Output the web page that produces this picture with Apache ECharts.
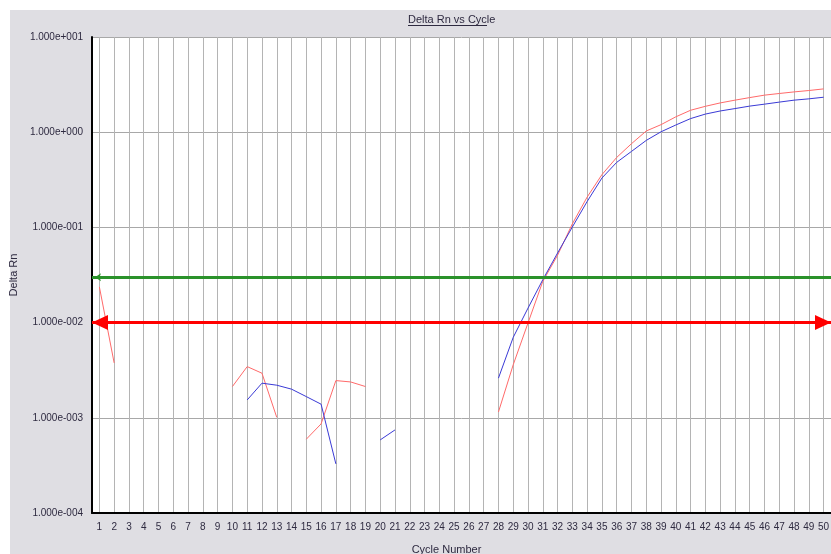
<!DOCTYPE html>
<html>
<head>
<meta charset="utf-8">
<script src="https://cdn.jsdelivr.net/npm/echarts@6/dist/echarts.min.js"></script>
<style>
  html, body { margin: 0; padding: 0; background: #fff; }
  #chart { width: 831px; height: 554px; }
</style>
</head>
<body>
<div id="chart"></div>
<script>
const cycles = ['1','2','3','4','5','6','7','8','9','10','11','12','13','14','15','16','17','18','19','20',
  '21','22','23','24','25','26','27','28','29','30','31','32','33','34','35','36','37','38','39','40',
  '41','42','43','44','45','46','47','48','49','50'];

// delta Rn per cycle, null where the trace is not drawn
const redWell = [0.0237, 0.00377, null, null, null, null, null, null, null, 0.00213,
  0.00345, 0.00294, 0.00101, null, 0.000596, 0.000863, 0.00246, 0.00238, 0.00213, null,
  null, null, null, null, null, null, null, 0.00115, 0.00361, 0.0099,
  0.0271, 0.051, 0.109, 0.208, 0.358, 0.543, 0.757, 1.03, 1.2, 1.45,
  1.70, 1.87, 2.03, 2.17, 2.31, 2.45, 2.55, 2.65, 2.74, 2.85];
const blueWell = [null, null, null, null, null, null, null, null, null, null,
  0.00154, 0.00231, 0.0022, 0.002, 0.00167, 0.00139, 0.000328, null, null, 0.000586,
  0.000746, null, null, null, null, null, null, 0.00261, 0.0070, 0.0142,
  0.0282, 0.0538, 0.101, 0.187, 0.33, 0.482, 0.628, 0.82, 1.01, 1.19,
  1.39, 1.55, 1.67, 1.77, 1.88, 1.97, 2.07, 2.17, 2.24, 2.33];

const thresholdGreen = 0.0338;
const thresholdRed = 0.01;

const labelColor = '#2e2a40';
const fontFamily = 'Liberation Sans, Arial, sans-serif';

function sciLabel(v) {
  const exp = Math.round(Math.log10(v));
  const mant = v / Math.pow(10, exp);
  const sign = exp < 0 ? '-' : '+';
  return mant.toFixed(3) + 'e' + sign + String(Math.abs(exp)).padStart(3, '0');
}

const chart = echarts.init(document.getElementById('chart'), null, { renderer: 'canvas' });

const option = {
  animation: false,
  backgroundColor: '#fff',
  textStyle: { fontFamily: fontFamily },
  graphic: [
    {
      type: 'rect', z: -10, silent: true,
      shape: { x: 10, y: 10, width: 821, height: 544 },
      style: { fill: '#dfdee3' }
    },
    {
      type: 'text', left: 408, top: 14,
      style: { text: 'Delta Rn vs Cycle', fill: '#2e2a40', font: '11px Liberation Sans, Arial, sans-serif' }
    },
    {
      type: 'line',
      shape: { x1: 408, y1: 25.5, x2: 487, y2: 25.5 },
      style: { stroke: '#2e2a40', lineWidth: 1 }
    }
  ],
  grid: {
    left: 92, top: 37, width: 739, height: 476,
    outerBoundsMode: 'none',
    containLabel: false,
    show: true, backgroundColor: '#fff', borderWidth: 0
  },
  xAxis: {
    type: 'category',
    data: cycles,
    boundaryGap: true,
    name: 'Cycle Number',
    nameLocation: 'middle',
    nameGap: 31,
    nameTextStyle: { color: labelColor, fontSize: 11, padding: [0, 30, 0, 0] },
    axisLine: { show: true, lineStyle: { color: '#000', width: 2 } },
    axisTick: { show: false },
    axisLabel: { interval: 0, color: labelColor, fontSize: 10, margin: 9 },
    splitLine: { show: true, alignWithLabel: true, interval: 0, lineStyle: { color: '#b4b4b4', width: 1 } }
  },
  yAxis: {
    type: 'log',
    logBase: 10,
    min: 0.0001,
    max: 10,
    name: 'Delta Rn',
    nameLocation: 'middle',
    nameRotate: 90,
    nameGap: 64,
    nameTextStyle: { color: labelColor, fontSize: 11 },
    axisLine: { show: true, lineStyle: { color: '#000', width: 2 } },
    axisTick: { show: false },
    axisLabel: { color: labelColor, fontSize: 10, margin: 9, formatter: sciLabel },
    splitLine: { show: true, lineStyle: { color: '#a8a8a8', width: 1 } }
  },
  series: [
    {
      name: 'red',
      type: 'line',
      data: redWell,
      showSymbol: false,
      symbol: 'none',
      connectNulls: false,
      lineStyle: { color: '#ff6a6a', width: 1 },
      markLine: {
        silent: true,
        symbol: ['triangle', 'triangle'],
        symbolSize: [15, 16],
        symbolOffset: [[0, 8], [0, 8]],
        label: { show: false },
        lineStyle: { color: '#ff0000', width: 3, type: 'solid' },
        data: [{ yAxis: thresholdRed }]
      }
    },
    {
      name: 'blue',
      type: 'line',
      data: blueWell,
      showSymbol: false,
      symbol: 'none',
      connectNulls: false,
      lineStyle: { color: '#3a3ad6', width: 1 },
      markLine: {
        silent: true,
        symbol: ['arrow', 'none'],
        symbolSize: [6, 6],
        symbolOffset: [[0, 3], [0, 0]],
        label: { show: false },
        lineStyle: { color: '#2a922a', width: 3, type: 'solid' },
        data: [{ yAxis: thresholdGreen }]
      }
    }
  ]
};

chart.setOption(option);
window.addEventListener('resize', chart.resize);
</script>
</body>
</html>
